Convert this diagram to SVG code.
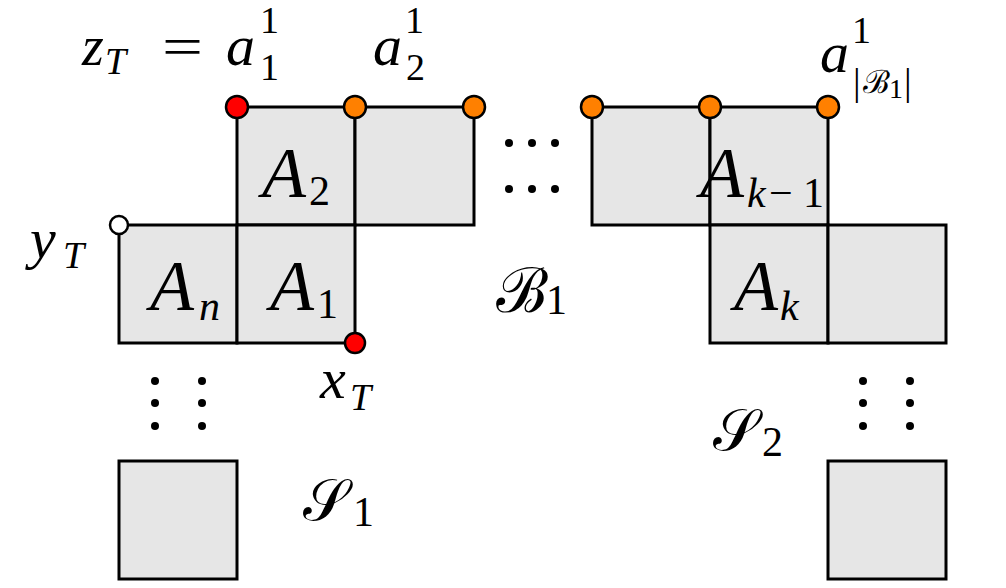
<svg xmlns="http://www.w3.org/2000/svg" width="1006" height="588" viewBox="0 0 1006 588">
<style>
.sq{fill:#e6e6e6;stroke:#000;stroke-width:3}
.pt{stroke:#000;stroke-width:2.5}
.red{fill:#ff0000}
.org{fill:#ff8000}
.wht{fill:#ffffff}
.dot{fill:#000}
</style>
<rect width="1006" height="588" fill="#fff"/>
<g id="squares">
<rect id="sqA2" class="sq" x="237" y="107" width="118" height="118"/>
<rect id="sqTop2" class="sq" x="355" y="107" width="119" height="118"/>
<rect id="sqAn" class="sq" x="119" y="225" width="118" height="118"/>
<rect id="sqA1" class="sq" x="237" y="225" width="118" height="118"/>
<rect id="sqR1" class="sq" x="592" y="107" width="118" height="118"/>
<rect id="sqAk1" class="sq" x="710" y="107" width="118" height="118"/>
<rect id="sqAk" class="sq" x="710" y="225" width="118" height="118"/>
<rect id="sqR2" class="sq" x="828" y="225" width="118" height="118"/>
<rect id="sqS1" class="sq" x="119" y="461" width="118" height="118"/>
<rect id="sqS2" class="sq" x="828" y="461" width="118" height="118"/>
</g>
<g id="points">
<circle id="pz" class="pt red" cx="237" cy="107" r="11"/>
<circle id="pa2" class="pt org" cx="355" cy="107" r="11"/>
<circle id="pa3" class="pt org" cx="474" cy="107" r="11"/>
<circle id="pb1" class="pt org" cx="592" cy="107" r="11"/>
<circle id="pb2" class="pt org" cx="710" cy="107" r="11"/>
<circle id="pb3" class="pt org" cx="828" cy="107" r="11"/>
<circle id="py" class="pt wht" cx="119" cy="225" r="9"/>
<circle id="px" class="pt red" cx="355" cy="343" r="10"/>
</g>
<g id="dots">
<circle class="dot" cx="509" cy="143" r="4"/><circle class="dot" cx="532" cy="143" r="4"/><circle class="dot" cx="555" cy="143" r="4"/>
<circle class="dot" cx="509" cy="189" r="4"/><circle class="dot" cx="532" cy="189" r="4"/><circle class="dot" cx="555" cy="189" r="4"/>
<circle class="dot" cx="155" cy="381" r="4"/><circle class="dot" cx="155" cy="403" r="4"/><circle class="dot" cx="155" cy="426" r="4"/>
<circle class="dot" cx="202" cy="381" r="4"/><circle class="dot" cx="202" cy="403" r="4"/><circle class="dot" cx="202" cy="426" r="4"/>
<circle class="dot" cx="863" cy="381" r="4"/><circle class="dot" cx="863" cy="403" r="4"/><circle class="dot" cx="863" cy="426" r="4"/>
<circle class="dot" cx="910" cy="381" r="4"/><circle class="dot" cx="910" cy="403" r="4"/><circle class="dot" cx="910" cy="426" r="4"/>
</g>
<text transform="translate(82 65) scale(1.8667)" font-size="30" font-family="Liberation Serif" font-style="italic">z</text>
<text transform="translate(105 74) scale(1.2667)" font-size="30" font-family="Liberation Serif" font-style="italic">T</text>
<text transform="translate(162 65) scale(1.8)" font-size="30" font-family="Liberation Serif" textLength="22.8" lengthAdjust="spacingAndGlyphs">=</text>
<text transform="translate(226 65) scale(1.9333)" font-size="30" font-family="Liberation Serif" font-style="italic">a</text>
<text transform="translate(260 33) scale(1.2667)" font-size="30" font-family="Liberation Serif">1</text>
<text transform="translate(260 80) scale(1.2667)" font-size="30" font-family="Liberation Serif">1</text>
<text transform="translate(373 65) scale(1.9333)" font-size="30" font-family="Liberation Serif" font-style="italic">a</text>
<text transform="translate(405 33) scale(1.2667)" font-size="30" font-family="Liberation Serif">1</text>
<text transform="translate(406 80) scale(1.2667)" font-size="30" font-family="Liberation Serif">2</text>
<text transform="translate(820 72) scale(1.9333)" font-size="30" font-family="Liberation Serif" font-style="italic">a</text>
<text transform="translate(852 43) scale(1.2667)" font-size="30" font-family="Liberation Serif">1</text>
<text transform="translate(853 95) scale(1.2667)" font-size="30" font-family="Liberation Serif">|</text>
<text transform="translate(863 93) scale(1.0667)" font-size="30" font-family="DejaVu Serif">ℬ</text>
<text transform="translate(889 98) scale(0.9333)" font-size="30" font-family="Liberation Serif">1</text>
<text transform="translate(904 95) scale(1.2667)" font-size="30" font-family="Liberation Serif">|</text>
<text transform="translate(30 258) scale(1.9333)" font-size="30" font-family="Liberation Serif" font-style="italic">y</text>
<text transform="translate(63 268) scale(1.2667)" font-size="30" font-family="Liberation Serif" font-style="italic">T</text>
<text transform="translate(262 197) scale(2.4)" font-size="30" font-family="Liberation Serif" font-style="italic">A</text>
<text transform="translate(309 205) scale(1.4)" font-size="30" font-family="Liberation Serif">2</text>
<text transform="translate(150 310) scale(2.4)" font-size="30" font-family="Liberation Serif" font-style="italic">A</text>
<text transform="translate(199 320) scale(1.4)" font-size="30" font-family="Liberation Serif" font-style="italic">n</text>
<text transform="translate(270 310) scale(2.4)" font-size="30" font-family="Liberation Serif" font-style="italic">A</text>
<text transform="translate(317 318) scale(1.4)" font-size="30" font-family="Liberation Serif">1</text>
<text transform="translate(700 197) scale(2.4)" font-size="30" font-family="Liberation Serif" font-style="italic">A</text>
<text transform="translate(747 207) scale(1.4)" font-size="30" font-family="Liberation Serif" font-style="italic">k</text>
<text transform="translate(769 207) scale(1.4)" font-size="30" font-family="Liberation Serif" textLength="39.3" lengthAdjust="spacing">−1</text>
<text transform="translate(734 310) scale(2.4)" font-size="30" font-family="Liberation Serif" font-style="italic">A</text>
<text transform="translate(780 320) scale(1.4)" font-size="30" font-family="Liberation Serif" font-style="italic">k</text>
<text transform="translate(496 312) scale(2.0667)" font-size="30" font-family="DejaVu Serif">ℬ</text>
<text transform="translate(546 314) scale(1.4)" font-size="30" font-family="Liberation Serif">1</text>
<text transform="translate(320 398) scale(1.9333)" font-size="30" font-family="Liberation Serif" font-style="italic">x</text>
<text transform="translate(350 410) scale(1.2667)" font-size="30" font-family="Liberation Serif" font-style="italic">T</text>
<text transform="translate(303 520) scale(1.9333)" font-size="30" font-family="DejaVu Serif">𝒮</text>
<text transform="translate(353 526) scale(1.4)" font-size="30" font-family="Liberation Serif">1</text>
<text transform="translate(713 450) scale(1.9333)" font-size="30" font-family="DejaVu Serif">𝒮</text>
<text transform="translate(762 456) scale(1.4)" font-size="30" font-family="Liberation Serif">2</text>
</svg>
